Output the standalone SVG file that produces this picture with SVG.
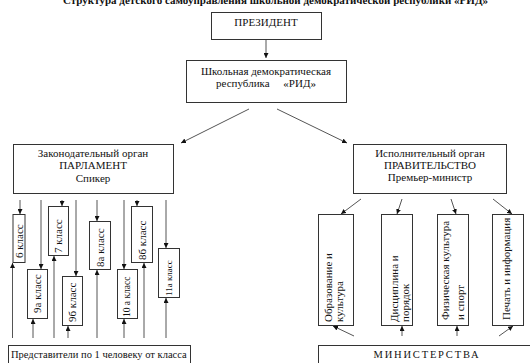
<svg xmlns="http://www.w3.org/2000/svg" width="530" height="363" viewBox="0 0 530 363">
<style>
.box{fill:#fff;stroke:#333;stroke-width:1}
.t{font-family:"Liberation Serif",serif;font-size:11px;fill:#111}
.c{text-anchor:middle}
.v{font-family:"Liberation Serif",serif;font-size:11px;fill:#111}
.ln{stroke:#555;stroke-width:1;fill:none;marker-end:url(#ah)}
</style>
<defs>
<marker id="ah" markerWidth="5" markerHeight="5" refX="5" refY="2.5" orient="auto" markerUnits="userSpaceOnUse">
<path d="M0,0 L5,2.5 L0,5 z" fill="#111"/>
</marker>
</defs>
<rect width="530" height="363" fill="#fff"/>
<text x="63" y="4" textLength="425" lengthAdjust="spacingAndGlyphs" style="font-family:'Liberation Serif',serif;font-size:11px;font-weight:bold;fill:#111">Структура детского самоуправления школьной демократической республики «РИД»</text>

<g id="president"><rect class="box" x="211.5" y="12.5" width="110" height="27"/><text class="t c" x="266" y="26">ПРЕЗИДЕНТ</text></g>
<g id="republic"><rect class="box" x="186.5" y="60.5" width="160" height="42"/><text class="t c" x="266" y="75">Школьная демократическая</text><text class="t c" x="266" y="87" xml:space="preserve">республика     «РИД»</text></g>
<g id="parliament"><rect class="box" x="13.5" y="144.5" width="160" height="49"/><text class="t c" x="93" y="157">Законодательный орган</text><text class="t c" x="93" y="169">ПАРЛАМЕНТ</text><text class="t c" x="93" y="182">Спикер</text></g>
<g id="government"><rect class="box" x="353.5" y="144.5" width="153" height="49"/><text class="t c" x="430" y="157">Исполнительный орган</text><text class="t c" x="430" y="169">ПРАВИТЕЛЬСТВО</text><text class="t c" x="430" y="181">Премьер-министр</text></g>

<g id="c6"><rect class="box" x="13" y="214.5" width="12" height="48"/><text class="v" transform="translate(22.5,258) rotate(-90)">6 класс</text></g>
<g id="c9a"><rect class="box" x="27.5" y="269.5" width="20" height="49"/><text class="v" transform="translate(41,313) rotate(-90)">9а класс</text></g>
<g id="c7"><rect class="box" x="48.5" y="206.5" width="20" height="49"/><text class="v" transform="translate(62,253) rotate(-90)">7 класс</text></g>
<g id="c9b"><rect class="box" x="62.5" y="276.5" width="20" height="49"/><text class="v" transform="translate(76,322) rotate(-90)">9б класс</text></g>
<g id="c8a"><rect class="box" x="89.5" y="221.5" width="21" height="48"/><text class="v" transform="translate(103.5,267) rotate(-90)">8а класс</text></g>
<g id="c10a"><rect class="box" x="117.5" y="269.5" width="20" height="49"/><text class="v" style="font-size:9.5px" transform="translate(130,317) rotate(-90)">10 а класс</text></g>
<g id="c8b"><rect class="box" x="131.5" y="206.5" width="21" height="56"/><text class="v" transform="translate(145.5,260) rotate(-90)">8б класс</text></g>
<g id="c11a"><rect class="box" x="158.5" y="248.5" width="21" height="49"/><text class="v" style="font-size:9px" transform="translate(171.5,296) rotate(-90)">11а класс</text></g>

<g id="m1"><rect class="box" x="318.5" y="214.5" width="35" height="111"/><text class="v" transform="translate(332,322) rotate(-90)">Образование и</text><text class="v" transform="translate(343,322) rotate(-90)">культура</text></g>
<g id="m2"><rect class="box" x="381.5" y="214.5" width="31" height="111"/><text class="v" transform="translate(398,322) rotate(-90)">Дисциплина и</text><text class="v" transform="translate(409,322) rotate(-90)">порядок</text></g>
<g id="m3"><rect class="box" x="437.5" y="214.5" width="31" height="111"/><text class="v" transform="translate(449,320) rotate(-90)">Физическая культура</text><text class="v" transform="translate(464,320) rotate(-90)">и спорт</text></g>
<g id="m4"><rect class="box" x="492.5" y="214.5" width="31" height="111"/><text class="v" transform="translate(510,320) rotate(-90)">Печать и информация</text></g>

<g id="reps"><rect class="box" x="8.5" y="345.5" width="182" height="30"/><text class="t" style="font-size:10.5px" x="11" y="358">Представители по 1 человеку от класса</text></g>
<g id="ministries"><rect class="box" x="318.5" y="345.5" width="220" height="30"/><text class="t c" style="font-size:10.5px;letter-spacing:1.8px" x="427" y="358">МИНИСТЕРСТВА</text></g>

<g id="connectors">
<line class="ln" x1="266" y1="40" x2="266" y2="58"/>
<line class="ln" x1="249" y1="109" x2="181" y2="143"/>
<line class="ln" x1="277" y1="109" x2="347" y2="143"/>
<line class="ln" x1="20" y1="200" x2="20" y2="214"/>
<line class="ln" x1="41" y1="200" x2="41" y2="269"/>
<line class="ln" x1="62" y1="200" x2="62" y2="206"/>
<line class="ln" x1="76" y1="200" x2="76" y2="276"/>
<line class="ln" x1="97" y1="200" x2="97" y2="221"/>
<line class="ln" x1="124" y1="200" x2="124" y2="269"/>
<line class="ln" x1="137" y1="200" x2="137" y2="206"/>
<line class="ln" x1="166" y1="200" x2="166" y2="248"/>
<line class="ln" x1="12.5" y1="338" x2="12.5" y2="263"/>
<line class="ln" x1="33" y1="338" x2="33" y2="319"/>
<line class="ln" x1="54" y1="338" x2="54" y2="256"/>
<line class="ln" x1="68" y1="338" x2="68" y2="326"/>
<line class="ln" x1="97" y1="338" x2="97" y2="270"/>
<line class="ln" x1="124" y1="338" x2="124" y2="319"/>
<line class="ln" x1="144" y1="338" x2="144" y2="263"/>
<line class="ln" x1="166" y1="338" x2="166" y2="298"/>
<line class="ln" x1="361" y1="199" x2="341" y2="214"/>
<line class="ln" x1="402" y1="199" x2="397" y2="214"/>
<line class="ln" x1="451" y1="199" x2="456" y2="214"/>
<line class="ln" x1="493" y1="199" x2="512" y2="214"/>
<line class="ln" x1="354" y1="336" x2="333" y2="326"/>
<line class="ln" x1="402" y1="336" x2="402" y2="326"/>
<line class="ln" x1="457" y1="336" x2="457" y2="326"/>
<line class="ln" x1="499" y1="336" x2="513" y2="326"/>
</g>
</svg>
